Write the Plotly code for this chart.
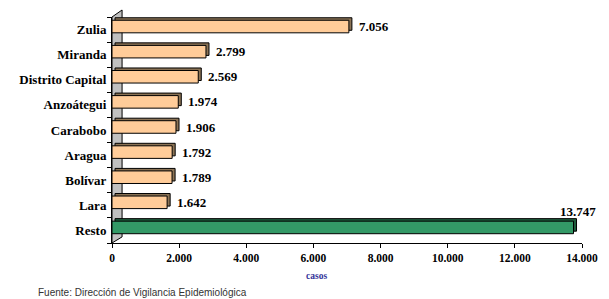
import plotly.graph_objects as go

categories = ["Zulia", "Miranda", "Distrito Capital", "Anzoátegui", "Carabobo",
              "Aragua", "Bolívar", "Lara", "Resto"]
values = [7056, 2799, 2569, 1974, 1906, 1792, 1789, 1642, 13747]
x_tick_values = [0, 2000, 4000, 6000, 8000, 10000, 12000, 14000]
x_tick_labels = ["0", "2.000", "4.000", "6.000", "8.000", "10.000", "12.000", "14.000"]
x_title = "casos"
source_text = "Fuente: Dirección de Vigilancia Epidemiológica"

front_colors = ["#FFCC99" if c != "Resto" else "#339966" for c in categories]
side_colors = ["#8B7355" if c != "Resto" else "#1E5C3C" for c in categories]

X_MAX = 14000
DEPTH_X = 90       # pseudo-3D depth along x (data units)
DEPTH_Y = 0.1      # pseudo-3D depth along category axis
BAR_W = 0.5
FRONT_OFF = -0.37

def fmt(v):
    return f"{v:,}".replace(",", ".")

fig = go.Figure()
# depth (back) face
fig.add_trace(go.Bar(
    y=categories, x=values, base=[DEPTH_X] * len(values), orientation="h",
    width=BAR_W, offset=FRONT_OFF - DEPTH_Y,
    marker=dict(color=side_colors, line=dict(color="#000000", width=1)),
    hoverinfo="skip", showlegend=False,
))
# front face
fig.add_trace(go.Bar(
    y=categories, x=values, orientation="h",
    width=BAR_W, offset=FRONT_OFF,
    marker=dict(color=front_colors, line=dict(color="#000000", width=1)),
    hoverinfo="skip", showlegend=False,
))

serif = "'Liberation Serif', 'Times New Roman', serif"
annotations = []
for c, v in zip(categories, values):
    if v + 1500 > X_MAX:
        annotations.append(dict(x=v, y=c, xref="x", yref="y", text=f"<b>{fmt(v)}</b>",
                                showarrow=False, xanchor="center", yanchor="middle",
                                xshift=4, yshift=19,
                                font=dict(family=serif, size=13, color="#000000")))
    else:
        annotations.append(dict(x=v + DEPTH_X, y=c, xref="x", yref="y", text=f"<b>{fmt(v)}</b>",
                                showarrow=False, xanchor="left", yanchor="middle",
                                xshift=5, yshift=3,
                                font=dict(family=serif, size=13, color="#000000")))

annotations.append(dict(x=0.436, y=-0.146, xref="paper", yref="paper", text=f"<b>{x_title}</b>",
                        showarrow=False, xanchor="center", yanchor="middle",
                        font=dict(family=serif, size=9.5, color="#333399")))
annotations.append(dict(x=-0.1617, y=-0.217, xref="paper", yref="paper", text=source_text,
                        showarrow=False, xanchor="left", yanchor="middle",
                        font=dict(family="'Liberation Sans', Arial, sans-serif", size=10, color="#333333")))

n = len(categories)
fig.update_layout(
    width=601, height=291,
    margin=dict(l=104, r=27, t=9, b=56, autoexpand=False),
    paper_bgcolor="#FFFFFF", plot_bgcolor="#FFFFFF",
    barmode="overlay",
    annotations=annotations,
    shapes=[dict(type="path", xref="x", yref="paper",
                 path="M 0,0 L 0,1 L 300,1.031 L 300,0.027 Z",
                 fillcolor="#C0C0C0", line=dict(color="#000000", width=1), layer="below")],
    xaxis=dict(range=[0, X_MAX], tickvals=x_tick_values,
               ticktext=[f"<b>{t}</b>" for t in x_tick_labels],
               showgrid=False, zeroline=False, showline=True, linecolor="#000000", linewidth=1,
               ticks="outside", ticklen=4, tickcolor="#000000",
               tickfont=dict(family=serif, size=11.5, color="#000000")),
    yaxis=dict(categoryorder="array", categoryarray=categories,
               range=[n - 0.5, -0.5], autorange=False,
               tickvals=categories, ticktext=[f"<b>{c}</b>" for c in categories],
               showgrid=False, zeroline=False, showline=True, linecolor="#000000", linewidth=1,
               ticks="outside", tickson="boundaries", ticklen=4, tickcolor="#000000",
               ticklabelstandoff=2,
               tickfont=dict(family=serif, size=13, color="#000000")),
)

fig.write_html("out.html")
